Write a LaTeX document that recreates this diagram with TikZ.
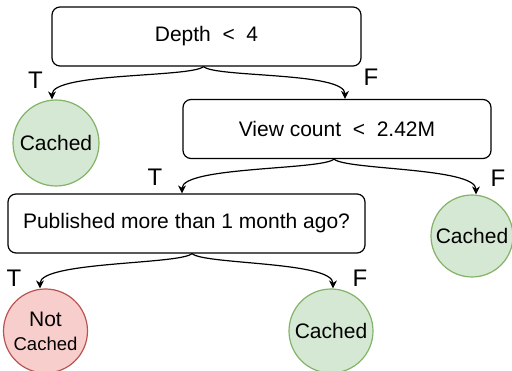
\documentclass[tikz,border=0pt]{standalone}
\usepackage{fontspec}
\setmainfont{Liberation Sans}
\usetikzlibrary{arrows.meta}
\definecolor{gfill}{HTML}{D5E8D4}
\definecolor{gline}{HTML}{82B366}
\definecolor{rfill}{HTML}{F8CECC}
\definecolor{rline}{HTML}{B85450}
\begin{document}
\begin{tikzpicture}[x=1pt,y=-1pt,
  box/.style={draw=black, line width=1.2pt, rounded corners=8pt, minimum height=59pt, inner sep=0pt, font=\fontsize{21}{25}\selectfont},
  leaf/.style={circle, draw=gline, fill=gfill, line width=1.2pt, minimum size=84pt, inner sep=0pt, font=\fontsize{21}{25}\selectfont},
  noleaf/.style={circle, draw=rline, fill=rfill, line width=1.2pt, minimum size=84pt, inner sep=0pt, align=center, font=\fontsize{21}{23}\selectfont},
  lbl/.style={font=\fontsize{24}{28}\selectfont, inner sep=0pt},
  arr/.style={draw=black, line width=1.2pt, -{Stealth[length=8pt,width=8pt,inset=2.5pt]}}
]
\useasboundingbox (0,0) rectangle (512,371);

\node[box, minimum width=309pt] (d1) at (206.5,36.5) {Depth\ \ <\ \ 4};
\node[box, minimum width=308pt] (v2) at (337,129) {View count\ \ <\ \ 2.42M};
\node[box, minimum width=357pt] (p3) at (186.5,223.5) {Published more than 1 month ago?};

\node[leaf, minimum size=86pt] (c1) at (56,143) {Cached};
\node[leaf, minimum size=82pt] (c2) at (472,236) {Cached};
\node[leaf] (c3) at (331,331) {Cached};
\node[noleaf] (nc) at (45.5,331) {Not\\[1pt]\fontsize{18.5}{22}\selectfont Cached};

\draw[arr] ([xshift=-3pt]d1.south) .. controls +(-12,11) and +(0,-27) .. ([xshift=-4pt]c1.north);
\draw[arr] ([xshift=-3pt]d1.south) .. controls +(12,11) and +(0,-27) .. ([xshift=8pt]v2.north);
\draw[arr] ([xshift=-3pt]v2.south) .. controls +(-12,11) and +(0,-27) .. ([xshift=-4.5pt]p3.north);
\draw[arr] ([xshift=-3pt]v2.south) .. controls +(12,11) and +(0,-27) .. ([xshift=4pt]c2.north);
\draw[arr] ([xshift=5.5pt]p3.south) .. controls +(-12,11) and +(0,-27) .. ([xshift=-5.5pt]nc.north);
\draw[arr] ([xshift=5.5pt]p3.south) .. controls +(12,11) and +(0,-27) .. ([xshift=2pt]c3.north);

\node[lbl] (t1) at (35.5,80) {T};
\node[lbl] (f1) at (371,77) {F};
\node[lbl] (t2) at (155,177) {T};
\node[lbl] (f2) at (498,178) {F};
\node[lbl] (t3) at (14,278) {T};
\node[lbl] (f3) at (360,278) {F};
\end{tikzpicture}
\end{document}
